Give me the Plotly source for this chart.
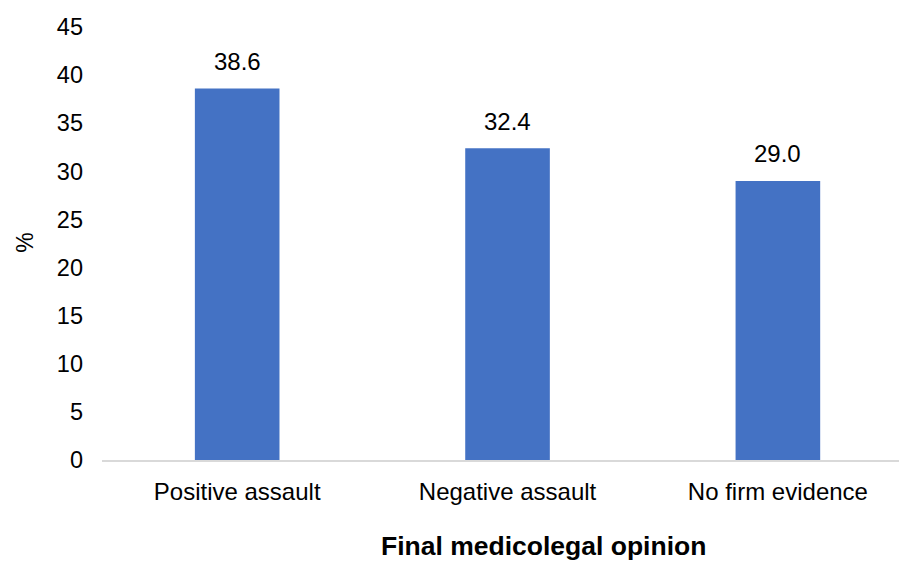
import plotly.graph_objects as go

categories = ["Positive assault", "Negative assault", "No firm evidence"]
values = [38.6, 32.4, 29.0]
labels = ["38.6", "32.4", "29.0"]
y_ticks = [0, 5, 10, 15, 20, 25, 30, 35, 40, 45]

FONT = "Arial, Liberation Sans, sans-serif"

fig = go.Figure()
fig.add_trace(go.Bar(x=categories, y=values, marker=dict(color="#4472C4", line=dict(width=0))))

for c, v, t in zip(categories, values, labels):
    fig.add_annotation(x=c, y=v, text=t, showarrow=False, yanchor="middle", yshift=27,
                       font=dict(family=FONT, size=24, color="#000000"))

fig.add_annotation(xref="paper", yref="paper", x=0.5536, y=-0.1985, text="<b>Final medicolegal opinion</b>",
                   showarrow=False, xanchor="center", yanchor="middle",
                   font=dict(family=FONT, size=26.5, color="#000000"))
fig.add_annotation(xref="paper", yref="paper", x=-0.096, y=0.503, text="%", textangle=-90,
                   showarrow=False, xanchor="center", yanchor="middle",
                   font=dict(family=FONT, size=23, color="#000000"))

fig.update_layout(
    width=899, height=561,
    margin=dict(l=101.5, r=0, t=26.5, b=101),
    paper_bgcolor="white", plot_bgcolor="white",
    bargap=0.687, showlegend=False,
    font=dict(family=FONT, size=23, color="#000000"),
)
fig.update_xaxes(range=[-0.5, 2.448], showgrid=False, showline=True, linecolor="#d9d9d9", linewidth=2,
                 ticks="", ticklabelstandoff=9, tickfont=dict(size=24))
fig.update_yaxes(range=[0, 45], tickvals=y_ticks, showgrid=False, showline=False, zeroline=False,
                 ticks="", ticklabelstandoff=18, tickfont=dict(size=23.5))

fig.write_html("out.html")
